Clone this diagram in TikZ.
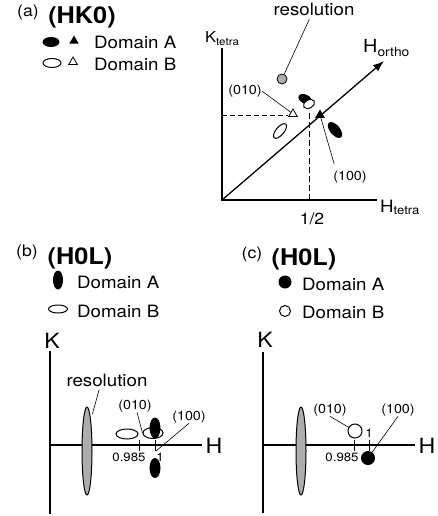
\documentclass[tikz,border=0pt]{standalone}
\usepackage{fontspec}
\setmainfont{TeX Gyre Heros}[FakeStretch=1.1]
\usetikzlibrary{shapes.geometric,arrows.meta}

\tikzset{
  txt/.style={inner sep=0pt, font=\fontsize{17}{20}\selectfont},
  tag/.style={inner sep=0pt, font=\fontsize{16}{19}\selectfont},
  ttl/.style={inner sep=0pt, font=\fontsize{23}{26}\selectfont\bfseries},
  idx/.style={inner sep=0pt, font=\fontsize{13}{15}\selectfont},
  num/.style={inner sep=0pt, font=\fontsize{12}{14}\selectfont},
  axname/.style={inner sep=0pt, font=\fontsize{21}{24}\selectfont},
  spotA/.style={ellipse, fill=black, inner sep=0pt},
  spotB/.style={ellipse, draw=black, fill=white, line width=1pt, inner sep=0pt},
  dotA/.style={circle, fill=black, inner sep=0pt},
  dotB/.style={circle, draw=black, fill=white, line width=1pt, inner sep=0pt},
  res/.style={ellipse, draw=black, fill=black!32, line width=1pt, inner sep=0pt},
  triA/.style={regular polygon, regular polygon sides=3, fill=black, inner sep=0pt, minimum size=11pt},
  triB/.style={regular polygon, regular polygon sides=3, draw=black, fill=white, line width=0.8pt, inner sep=0pt, minimum size=10pt},
  lead/.style={line width=0.6pt},
  axis/.style={line width=1.2pt},
  guide/.style={line width=0.8pt, dash pattern=on 5pt off 3pt},
}

\begin{document}
\begin{tikzpicture}[x=1pt,y=-1pt]
  \path[fill=white, use as bounding box] (0,0) rectangle (438,516);

  % (a) HK0
  \node[tag] (tagA) at (28,12) {(a)};
  \node[ttl] (ttlA) at (82,17) {(HK0)};
  \node[spotA, minimum width=17pt, minimum height=10pt] (legA1) at (51,42) {};
  \node[triA] (legA2) at (74,41) {};
  \node[txt, anchor=west] (legA3) at (94,42) {Domain A};
  \node[spotB, minimum width=18pt, minimum height=9pt] (legB1) at (52,63) {};
  \node[triB] (legB2) at (73,62) {};
  \node[txt, anchor=west] (legB3) at (94,64) {Domain B};

  \draw[guide] (222,115) -- (288,115);
  \draw[guide, dash pattern=on 6pt off 3pt] (309,200) -- (309,110);
  \draw[axis] (222,48) -- (222,200) -- (377,200);
  \coordinate (oA) at (222,200);
  \coordinate (hA) at (384,61);
  \draw[line width=1.3pt, -{Latex[length=11pt,width=8pt]}] (oA) -- (hA);
  \node[inner sep=0pt, anchor=base west, font=\fontsize{15}{18}\selectfont] (kA) at (205,43) {K\textsubscript{tetra}};
  \node[inner sep=0pt, anchor=base west, font=\fontsize{17}{20}\selectfont] (htA) at (380,212) {H\textsubscript{tetra}};
  \node[inner sep=0pt, anchor=base west, font=\fontsize{18}{21}\selectfont] (hoA) at (363,53) {H\textsubscript{ortho}};
  \node[inner sep=0pt, font=\fontsize{16}{19}\selectfont] (halfA) at (312,219) {1/2};

  \node[circle, draw=black, fill=black!32, line width=0.8pt, minimum size=10pt, inner sep=0pt] (resA) at (282,79) {};
  \node[txt] (labResA) at (314,9) {resolution};
  \draw[lead, shorten >=4pt] (resA) -- (labResA);

  \node[spotB, minimum width=18pt, minimum height=8pt, rotate=50] (eB) at (280,131) {};
  \node[spotA, minimum width=19pt, minimum height=10pt, rotate=-50] (eA) at (335,130) {};
  \node[spotA, minimum width=14pt, minimum height=9pt, rotate=-25] (cA) at (305,99) {};
  \node[spotB, minimum width=12pt, minimum height=8pt, rotate=30] (cB) at (309,104) {};
  \node[triB] (tB) at (293,114) {};
  \node[triA] (tA) at (320,115) {};

  \node[idx] (lab010A) at (245,91) {(010)};
  \draw[lead] (lab010A.east) -- (tB);
  \node[idx] (lab100A) at (350,177) {(100)};
  \draw[lead, shorten <=7pt] ([xshift=3pt]lab100A.north west) -- (tA);

  % (b) H0L
  \node[tag] (tagB) at (27,252) {(b)};
  \node[ttl] (ttlB) at (80,258) {(H0L)};
  \node[spotA, minimum width=10pt, minimum height=19pt] (legC1) at (58,280) {};
  \node[txt, anchor=west] (legC2) at (77,282) {Domain A};
  \node[spotB, minimum width=19pt, minimum height=8pt] (legD1) at (58,309) {};
  \node[txt, anchor=west] (legD2) at (77,311) {Domain B};

  \draw[line width=1.5pt] (50,351) -- (50,514);
  \draw[line width=2pt] (50,445) -- (202,445);
  \node[axname] (kB) at (52,341) {K};
  \node[axname] (hB) at (214,446) {H};
  \draw[line width=1pt] (139,440) -- (139,451);
  \draw[line width=1pt] (155,440) -- (155,451);
  \node[num] (n985B) at (129,457) {0.985};
  \node[num] (n1B) at (160,457) {1};

  \node[res, minimum width=10pt, minimum height=88pt] (resB) at (87,451) {};
  \node[txt] (labResB) at (107,380) {resolution};
  \draw[lead, shorten <=3pt, shorten >=6pt] ([xshift=-7pt]labResB.south) -- (resB.north east);

  \node[spotB, minimum width=22pt, minimum height=10pt] (b1) at (127,434) {};
  \node[spotB, minimum width=20pt, minimum height=11pt] (b2) at (153,433) {};
  \node[spotA, minimum width=11pt, minimum height=21pt] (b3) at (155,428) {};
  \node[spotA, minimum width=11pt, minimum height=20pt] (b4) at (155,468) {};

  \node[idx] (lab010B) at (135,406) {(010)};
  \draw[lead] ([xshift=2pt]lab010B.south) -- (b2.west);
  \node[idx] (lab100B) at (189,417) {(100)};
  \coordinate (p100B) at (156,451);
  \draw[lead] (lab100B.south) -- (p100B);

  % (c) H0L
  \node[tag] (tagC) at (252,254) {(c)};
  \node[ttl] (ttlC) at (304,259) {(H0L)};
  \node[dotA, minimum size=13pt] (legE1) at (285,282) {};
  \node[txt, anchor=west] (legE2) at (302,284) {Domain A};
  \node[dotB, minimum size=11pt] (legF1) at (285,311) {};
  \node[txt, anchor=west] (legF2) at (302,312) {Domain B};

  \draw[line width=1.5pt] (263,352) -- (263,513);
  \draw[line width=2pt] (263,445) -- (415,445);
  \node[axname] (kC) at (265,340) {K};
  \node[axname] (hC) at (427,446) {H};
  \draw[line width=1pt] (354,440) -- (354,451);
  \draw[line width=1pt] (369,440) -- (369,451);
  \node[num] (n985C) at (342,457) {0.985};
  \node[num] (n1C) at (369,433) {1};

  \node[res, minimum width=10pt, minimum height=88pt] (resC) at (301,451) {};
  \node[dotB, minimum size=14pt] (c1) at (355,431) {};
  \node[dotA, minimum size=14pt] (c2) at (368,458) {};

  \node[idx] (lab010C) at (330,410) {(010)};
  \draw[lead] (lab010C.south) -- (c1);
  \node[idx] (lab100C) at (398,410) {(100)};
  \draw[lead] (lab100C.south) -- (c2);
\end{tikzpicture}
\end{document}
